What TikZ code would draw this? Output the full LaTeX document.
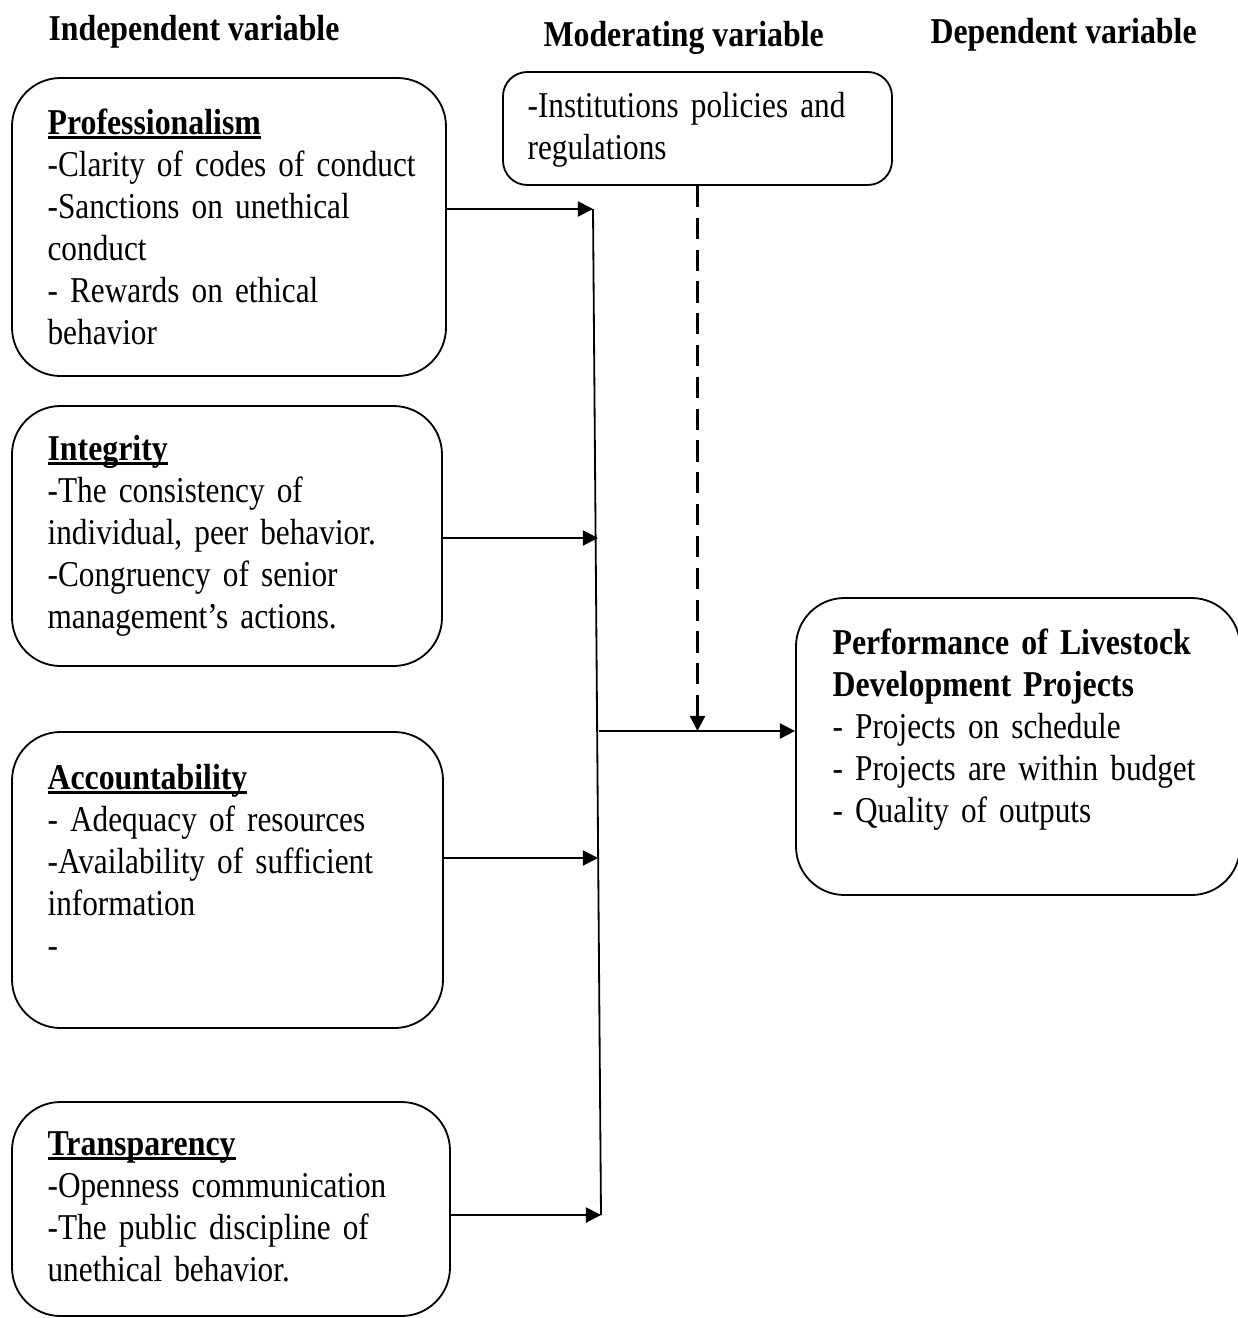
\documentclass[tikz,border=0pt]{standalone}
\usepackage{fontspec}
\setmainfont{Liberation Serif}[UprightFeatures={FakeStretch=0.86}, BoldFeatures={FakeStretch=0.875}]
\usetikzlibrary{positioning}
\usetikzlibrary{fit}
\usetikzlibrary{arrows.meta}
\newcommand{\headword}[1]{ % Bold heading with a thick underline
    \setbox0\hbox{\textbf{#1}}\rlap{\rule[-1.6pt]{\wd0}{0.9pt}}\box0%
}
\newcommand{\diagfont}{\fontsize{12}{13.86}\selectfont}

\begin{document}
\begin{tikzpicture}[x=0.33pt, y=-0.33pt,
    box/.style={draw, line width=0.6pt, rounded corners=16pt, inner sep=0pt},
    smallbox/.style={box, rounded corners=8pt},
    txt/.style={anchor=base west, inner sep=0pt, align=left, text width=130pt, font=\diagfont},
    head/.style={anchor=base west, inner sep=0pt, font=\diagfont\bfseries},
    arr/.style={line width=0.6pt, -{Triangle[length=5pt,width=5pt]}}]
                \useasboundingbox (0,0) rectangle (1237,1318);

                % Headings
                \node[head] (indep) at (48,40) {Independent variable};
                \node[head] (moder) at (543,46) {Moderating variable};
                \node[head] (depen) at (930,43) {Dependent variable};

                % Independent variables
                \node[box, fit={(12,78) (446,376)}] (prof) {};
                \node[txt] (proftxt) at (47,134) {\headword{Professionalism}\\
                    -Clarity of codes of conduct\\ -Sanctions on unethical\\ conduct\\
                    - Rewards on ethical\\ behavior};

                \node[box, fit={(12,406) (442,666)}] (integ) {};
                \node[txt] (integtxt) at (47,460) {\headword{Integrity}\\
                    -The consistency of\\ individual, peer behavior.\\
                    -Congruency of senior\\ management’s actions.};

                \node[box, fit={(12,732) (443,1028)}] (acc) {};
                \node[txt] (acctxt) at (47,789) {\headword{Accountability}\\
                    - Adequacy of resources\\ -Availability of sufficient\\
                    information\\ -};

                \node[box, fit={(12,1102) (450,1316)}] (trans) {};
                \node[txt] (transtxt) at (47,1155) {\headword{Transparency}\\
                    -Openness communication\\ -The public discipline of\\
                    unethical behavior.};

                % Moderating variable
                \node[smallbox, fit={(503,72) (892,185)}] (mod) {};
                \node[txt] (modtxt) at (527,117) {-Institutions policies and\\ regulations};

                % Dependent variable
                \node[box, fit={(796,598) (1240,895)}] (dep) {};
                \node[txt] (deptxt) at (832,654) {\textbf{Performance of Livestock}\\
                    \textbf{Development Projects}\\ - Projects on schedule\\
                    - Projects are within budget\\ - Quality of outputs};

                % Joining line
                \coordinate (j1) at (593,209);
                \coordinate (j2) at (598,538);
                \coordinate (j3) at (598,858);
                \coordinate (j4) at (601,1215);
                \coordinate (jout) at (599,731);
                \draw[line width=0.6pt] (j1) -- (j4);

                % Arrows
                \draw[arr] (prof.east |- j1) -- (j1);
                \draw[arr] (integ.east |- j2) -- (j2);
                \draw[arr] (acc.east |- j3) -- (j3);
                \draw[arr] (trans.east |- j4) -- (j4);
                \draw[arr] (jout) -- (dep.west |- jout);
                \draw[arr, line width=0.75pt, dash pattern=on 7pt off 3.5pt] (mod.south) -- (mod.south |- jout);
\end{tikzpicture}
\end{document}
